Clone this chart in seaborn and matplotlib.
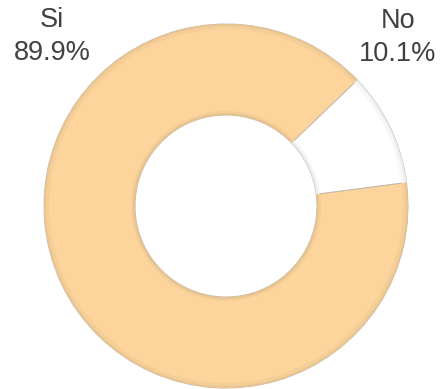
import matplotlib
matplotlib.use("Agg")
import matplotlib.pyplot as plt
from matplotlib.patches import Wedge
import numpy as np
import seaborn as sns

sns.set_theme(style="white")
plt.rcParams["font.family"] = ["Liberation Sans", "DejaVu Sans"]

# Survey answers and their shares (percent)
labels = ["Si", "No"]
shares = [89.9, 10.1]
colors = ["#FCD49C", "#FFFFFF"]

W, H = 442, 389
fig = plt.figure(figsize=(W / 100, H / 100), dpi=100)
ax = fig.add_axes([0, 0, 1, 1])

cx, cy, r_out = 226, 183, 182
ring = 91
start = 43.8

wedges, _ = ax.pie(
    shares,
    colors=colors,
    startangle=start,
    counterclock=True,
    center=(cx, cy),
    radius=r_out,
    wedgeprops=dict(width=ring, edgecolor="#C4B8A8", linewidth=0.7),
)

# soft bevel: thin rings of slightly darker tone at the outer and inner rims
theta = start
for share, base in zip(shares, colors):
    t1, t2 = theta, theta + share * 3.6
    rgb = np.array(matplotlib.colors.to_rgb(base))
    for rad, w, f in [(r_out, 2, 0.93), (r_out - 2, 3, 0.97),
                      (r_out - ring + 4, 3, 0.97), (r_out - ring + 2, 2, 0.92)]:
        ax.add_patch(Wedge((cx, cy), rad, t1, t2, width=w,
                           facecolor=rgb * f, edgecolor="none"))
    theta = t2

ax.set_xlim(0, W)
ax.set_ylim(0, H)
ax.set_aspect("equal")
ax.axis("off")

text_color = "#404040"
label_pos = {"Si": (52, H - 20, H - 53), "No": (398, H - 21, H - 54)}
for lab, val in zip(labels, shares):
    x, y1, y2 = label_pos[lab]
    ax.text(x, y1, lab, ha="center", va="center", fontsize=19.5, color=text_color)
    ax.text(x, y2, f"{val:.1f}%", ha="center", va="center", fontsize=19.5, color=text_color)

fig.savefig("out.png", dpi=100)
